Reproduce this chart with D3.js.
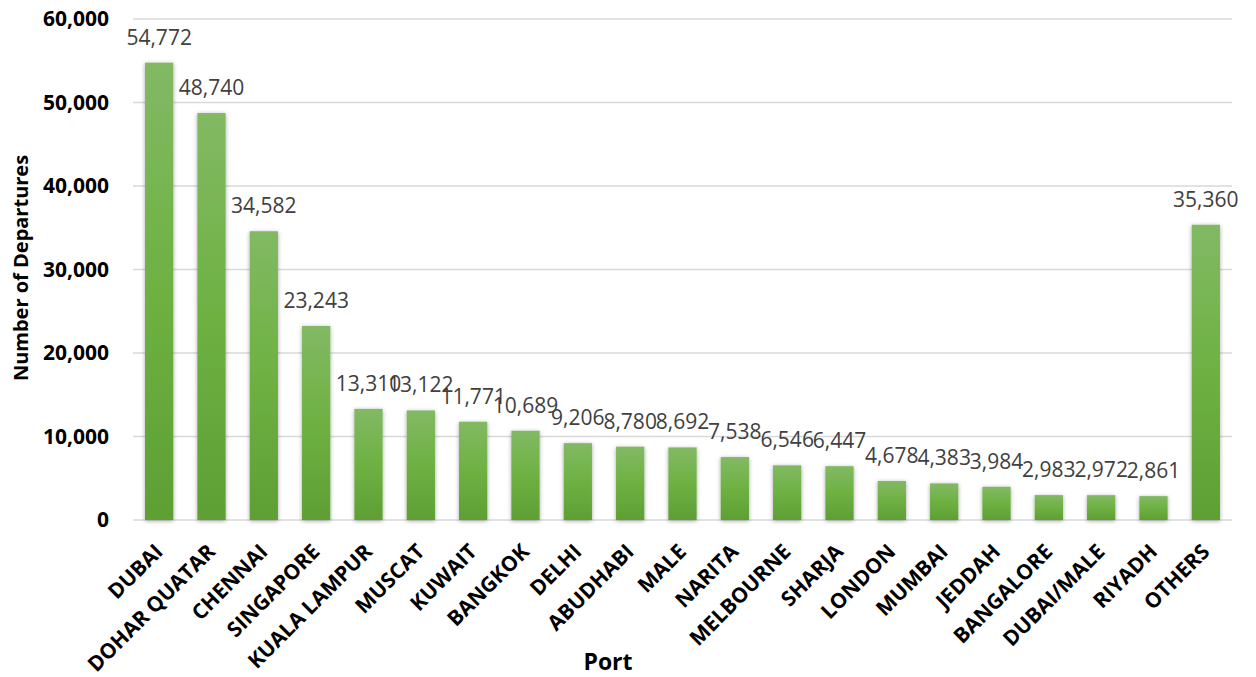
<!DOCTYPE html>
<html><head><meta charset="utf-8">
<script src="https://cdn.jsdelivr.net/npm/d3@7"></script>
<style>body{margin:0;background:#fff;} svg{display:block;}</style>
</head><body>
<svg id="chart" width="1256" height="677"></svg>
<script>
const ports = ["DUBAI","DOHAR QUATAR","CHENNAI","SINGAPORE","KUALA LAMPUR","MUSCAT","KUWAIT","BANGKOK","DELHI","ABUDHABI","MALE","NARITA","MELBOURNE","SHARJA","LONDON","MUMBAI","JEDDAH","BANGALORE","DUBAI/MALE","RIYADH","OTHERS"];
const departures = [54772,48740,34582,23243,13310,13122,11771,10689,9206,8780,8692,7538,6546,6447,4678,4383,3984,2983,2972,2861,35360];
const yTicks = [0,10000,20000,30000,40000,50000,60000];

(function(){
const svg = d3.select("#chart");
const mL = 133, mR = 1232, mT = 19, mB = 520;
const x = d3.scaleBand().domain(ports).range([mL, mR]).paddingInner(0.46).paddingOuter(0.23);
const y = d3.scaleLinear().domain([0, 60000]).range([mB, mT]);
const fmt = d3.format(",");

const defs = svg.append("defs");
const grad = defs.append("linearGradient").attr("id","g").attr("x1",0).attr("y1",0).attr("x2",0).attr("y2",1);
grad.append("stop").attr("offset","0%").attr("stop-color","#82b964");
grad.append("stop").attr("offset","50%").attr("stop-color","#6eb142");
grad.append("stop").attr("offset","100%").attr("stop-color","#5e9f34");
const f = defs.append("filter").attr("id","sh").attr("x","-50%").attr("y","-10%").attr("width","200%").attr("height","130%");
f.append("feDropShadow").attr("dx",0).attr("dy",1).attr("stdDeviation",2.2).attr("flood-color","#000").attr("flood-opacity",0.35);

svg.append("g").selectAll("line").data(yTicks).join("line")
  .attr("x1", mL).attr("x2", mR)
  .attr("y1", d => y(d)).attr("y2", d => y(d))
  .attr("stroke", "#d9d9d9").attr("stroke-width", 1.5);

const yAxis = d3.axisLeft(y).tickValues(yTicks).tickFormat(fmt).tickSize(0).tickPadding(24);
const ya = svg.append("g").attr("transform", `translate(${mL},0)`).call(yAxis);
ya.select(".domain").remove();
ya.selectAll("text").attr("font-family","Open Sans").attr("font-weight","bold").attr("font-size","21px").attr("fill","#000");

svg.append("g").selectAll("rect").data(departures).join("rect")
  .attr("x", (d,i) => x(ports[i]))
  .attr("width", x.bandwidth())
  .attr("y", d => y(d))
  .attr("height", d => mB - y(d))
  .attr("fill", "url(#g)")
  .attr("filter", "url(#sh)");

svg.append("g").selectAll("text").data(departures).join("text")
  .attr("x", (d,i) => x(ports[i]) + x.bandwidth()/2)
  .attr("y", d => y(d) - 18)
  .attr("text-anchor","middle")
  .attr("font-family","Open Sans").attr("font-size","21px").attr("fill","#404040")
  .text(d => fmt(d));

const xAxis = d3.axisBottom(x).tickSize(0).tickPadding(0);
const xa = svg.append("g").attr("transform", `translate(0,${mB})`).call(xAxis);
xa.select(".domain").remove();
xa.selectAll("text")
  .attr("font-family","Open Sans").attr("font-weight","bold").attr("font-size","21px").attr("fill","#000")
  .attr("text-anchor","end")
  .attr("dy", null).attr("y", null)
  .attr("transform", "translate(5,33) rotate(-45)");

svg.append("text").attr("x", 608).attr("y", 670).attr("text-anchor","middle")
  .attr("font-family","Open Sans").attr("font-weight","bold").attr("font-size","23px").text("Port");
svg.append("text").attr("transform","translate(28,268) rotate(-90)").attr("text-anchor","middle")
  .attr("font-family","Open Sans").attr("font-weight","bold").attr("font-size","20px").text("Number of Departures");
})();
</script>
</body></html>
